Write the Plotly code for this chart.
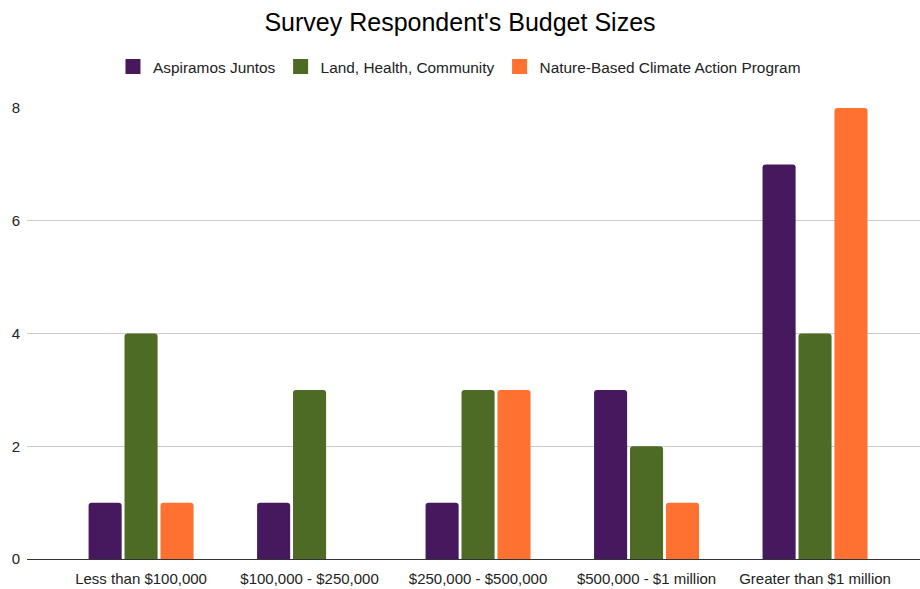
import plotly.graph_objects as go

categories = ["Less than $100,000", "$100,000 - $250,000", "$250,000 - $500,000",
              "$500,000 - $1 million", "Greater than $1 million"]
aspiramos = [1, 1, 1, 3, 7]
land_health = [4, 3, 3, 2, 4]
nature_based = [1, 0, 3, 1, 8]

series = [
    ("Aspiramos Juntos", aspiramos, "#46185e"),
    ("Land, Health, Community", land_health, "#4e6b26"),
    ("Nature-Based Climate Action Program", nature_based, "#ff7131"),
]

fig = go.Figure()
for name, vals, color in series:
    fig.add_trace(go.Bar(
        name=name, x=list(range(len(categories))), y=vals,
        marker=dict(color=color, line=dict(width=0)), showlegend=False,
    ))
# Legend entries with larger square swatches
for name, vals, color in series:
    fig.add_trace(go.Scatter(
        name=name, x=[None], y=[None], mode="markers",
        marker=dict(symbol="square", size=15, color=color), showlegend=True,
    ))

font = "Liberation Sans, Arial, sans-serif"
fig.update_layout(
    width=920, height=589,
    margin=dict(l=27, r=0, t=108, b=30),
    paper_bgcolor="white", plot_bgcolor="white",
    barmode="group", bargap=0.36, bargroupgap=0.08, barcornerradius=3,
    font=dict(family=font, size=15, color="#222222"),
    title=dict(text="Survey Respondent's Budget Sizes", x=0.5, xanchor="center",
               y=0.962, yanchor="middle", font=dict(family=font, size=25, color="#000000")),
    legend=dict(orientation="h", x=0.4843, xanchor="center", y=1.0 + 41 / 451, yanchor="middle",
                font=dict(family=font, size=15.4, color="#222222"), itemwidth=30,
                traceorder="normal"),
    showlegend=True,
)
fig.update_xaxes(
    tickmode="array", tickvals=list(range(len(categories))), ticktext=categories,
    range=[-0.677, 4.623], showgrid=False, zeroline=False,
    showline=True, linecolor="#333333", linewidth=1,
    tickfont=dict(family=font, size=15, color="#222222"), ticks="",
    ticklabelstandoff=6,
)
fig.update_yaxes(
    range=[0, 8], tickvals=[0, 2, 4, 6, 8], showgrid=True, gridcolor="#cccccc",
    gridwidth=1, zeroline=False, showline=False, ticks="",
    tickfont=dict(family=font, size=15, color="#222222"), ticklabelstandoff=6,
)

fig.write_html("out.html")
